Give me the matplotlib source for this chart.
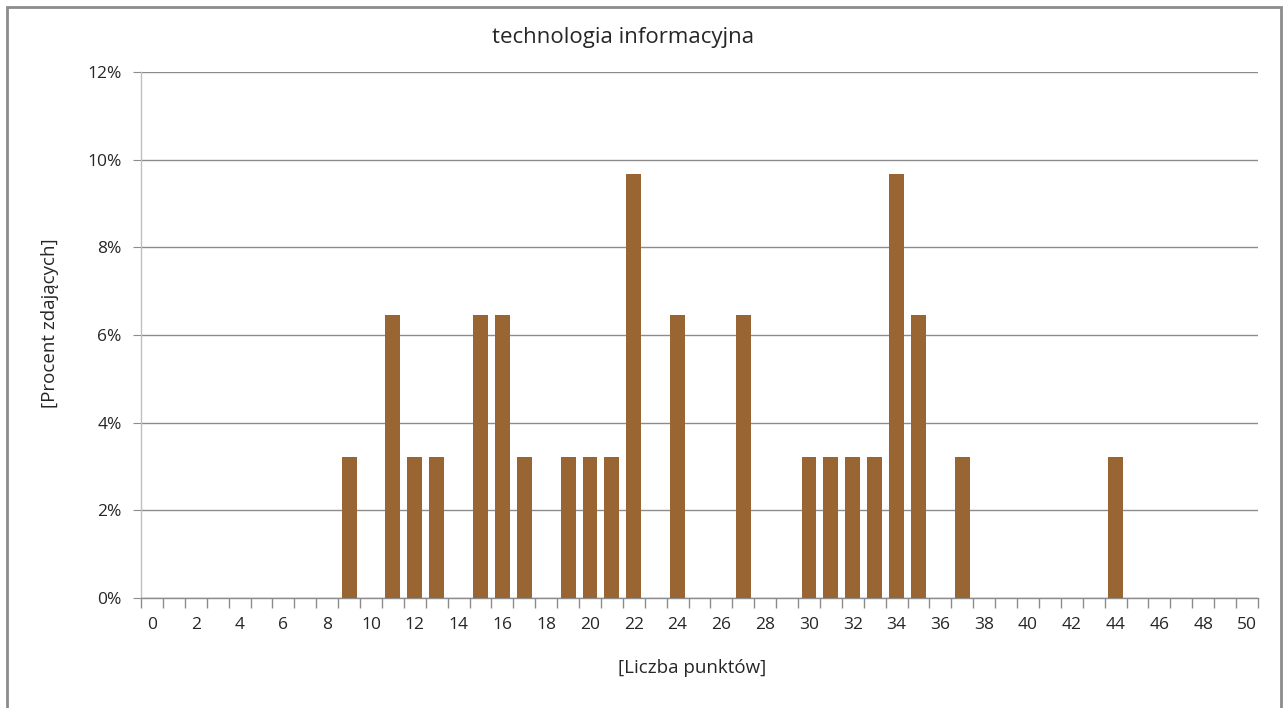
import numpy as np
import matplotlib.pyplot as plt
from matplotlib.patches import Rectangle
from matplotlib.ticker import FixedLocator, FuncFormatter

# liczba punktów -> liczba zdających (31 osób)
points = list(range(0, 51))
counts_at = {9: 1, 11: 2, 12: 1, 13: 1, 15: 2, 16: 2, 17: 1, 19: 1, 20: 1,
             21: 1, 22: 3, 24: 2, 27: 2, 30: 1, 31: 1, 32: 1, 33: 1, 34: 3,
             35: 2, 37: 1, 44: 1}
total = 31
percent = [counts_at.get(p, 0) / total for p in points]
tick_labels = [str(p) if p % 2 == 0 else "" for p in points]

plt.rcParams['font.family'] = ['Open Sans', 'DejaVu Sans']

W, H = 1285, 708
fig = plt.figure(figsize=(W / 100, H / 100), dpi=100, facecolor='white')
ax = fig.add_axes([141 / W, 1 - 598 / H, (1258 - 141) / W, (598 - 72) / H])

ax.bar(points, percent, width=0.68, color='#996633', zorder=3)

ax.set_xlim(-0.5, 50.5)
ax.set_ylim(0, 0.12)
ax.set_yticks(np.arange(0, 0.121, 0.02))
ax.yaxis.set_major_formatter(FuncFormatter(lambda v, _: f"{v * 100:.0f}%"))
ax.grid(axis='y', color='#8c8c8c', linewidth=1, zorder=0)
ax.tick_params(axis='y', length=6, color='#8c8c8c', labelsize=12.5, pad=8,
               labelcolor='#262626')

ax.set_xticks(points)
ax.set_xticklabels(tick_labels)
ax.tick_params(axis='x', which='major', length=0, labelsize=12.5, pad=14,
               labelcolor='#262626')
ax.xaxis.set_minor_locator(FixedLocator(np.arange(-0.5, 51, 1)))
ax.tick_params(axis='x', which='minor', length=7, color='#8c8c8c', width=1)

for side in ['top', 'right']:
    ax.spines[side].set_visible(False)
ax.spines['left'].set_color('#bfbfbf')
ax.spines['bottom'].set_color('#8c8c8c')
ax.spines['left'].set_linewidth(1)
ax.spines['bottom'].set_linewidth(1)

fig.text(623 / W, 1 - 38 / H, "technologia informacyjna", ha='center',
         va='center', fontsize=16, color='#262626')
fig.text(692 / W, 1 - 668 / H, "[Liczba punktów]", ha='center', va='center',
         fontsize=13.5, color='#262626')
fig.text(50 / W, 1 - 323 / H, "[Procent zdających]", ha='center',
         va='center', rotation=90, fontsize=13.5, color='#262626')

fig.patches.append(Rectangle((7 / W, -0.05), (1281 - 7) / W, 1.05 - 7 / H,
                             transform=fig.transFigure, fill=False,
                             edgecolor='#8c8c8c', linewidth=2))

fig.savefig('out.png', dpi=100)
